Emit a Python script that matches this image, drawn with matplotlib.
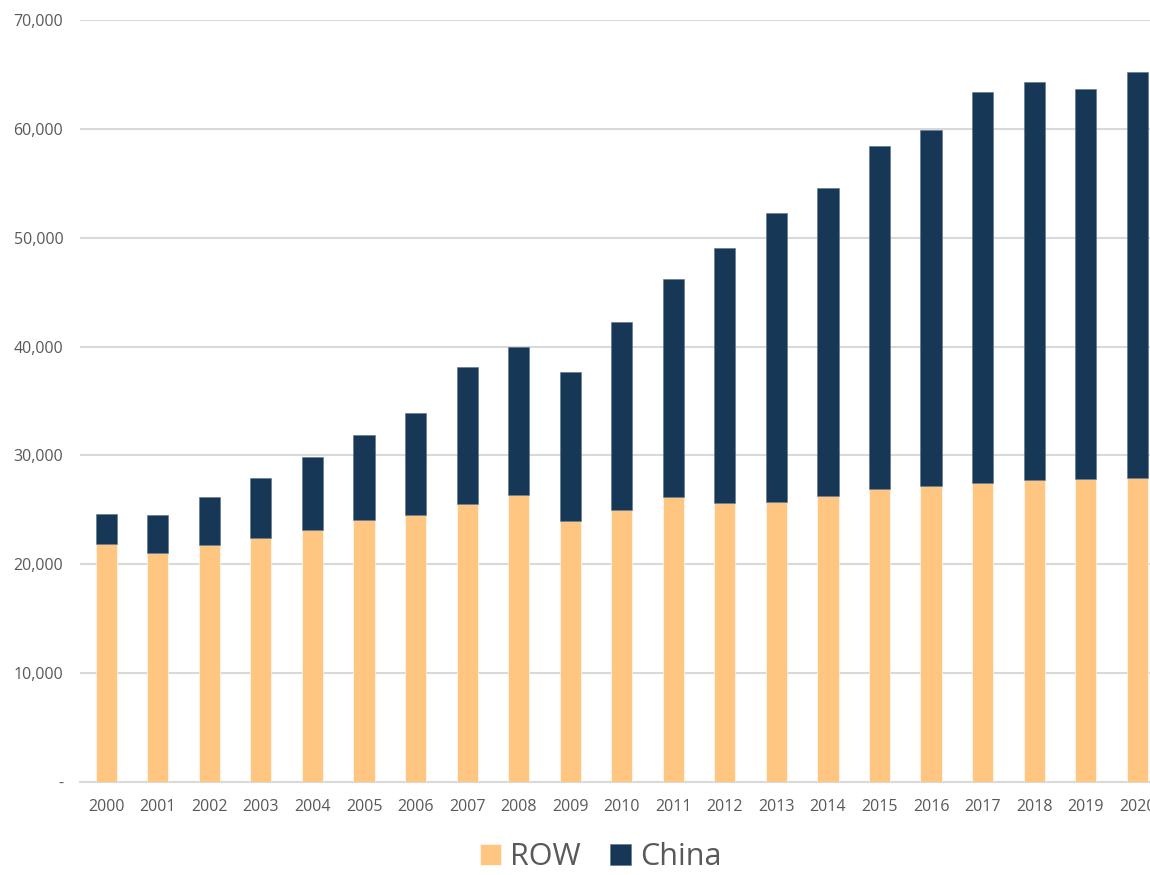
import numpy as np
import matplotlib
matplotlib.use('Agg')
import matplotlib.pyplot as plt
from matplotlib.ticker import FuncFormatter

plt.rcParams['font.family'] = ['Open Sans', 'DejaVu Sans']

# Dữ liệu
years = [str(y) for y in range(2000, 2021)]
row = [21870, 21070, 21800, 22390, 23150, 24100, 24560, 25500, 26390, 23980,
       24960, 26150, 25630, 25750, 26310, 26880, 27190, 27430, 27770, 27830, 27890]
total = [24620, 24500, 26150, 27950, 29850, 31840, 33880, 38140, 39940, 37650,
         42270, 46210, 49080, 52270, 54610, 58380, 59850, 63370, 64310, 63640, 65260]
china = [t - r for t, r in zip(total, row)]

c_row = '#FFC682'
c_china = '#163755'

fig = plt.figure(figsize=(11.5, 8.75), dpi=100)
ax = fig.add_axes([80 / 1150, 1 - 782 / 875, 1083 / 1150, (782 - 20) / 875])

x = np.arange(len(years))
ax.bar(x, row, width=0.41, color=c_row, edgecolor='white', linewidth=0.4, label='ROW', zorder=3)
ax.bar(x, china, bottom=row, width=0.41, color=c_china, edgecolor='#5d7389',
       linewidth=0.4, label='China', zorder=3)

ax.set_xlim(-0.51, 20.5)
ax.set_ylim(0, 70000)
ax.set_yticks(np.arange(0, 70001, 10000))
ax.yaxis.set_major_formatter(FuncFormatter(lambda v, p: '-' if v == 0 else f'{int(v):,}'))
ax.set_xticks(x)
ax.set_xticklabels(years)

ax.grid(axis='y', color='#d9d9d9', linewidth=1.5, zorder=0)
for s in ['top', 'right', 'left']:
    ax.spines[s].set_visible(False)
ax.spines['bottom'].set_color('#d9d9d9')
ax.spines['bottom'].set_linewidth(1.5)
ax.tick_params(axis='both', length=0, labelsize=11.5, labelcolor='#595959')
ax.tick_params(axis='y', pad=12)
ax.tick_params(axis='x', pad=12)

leg = fig.legend(loc='center', bbox_to_anchor=(601 / 1150, 1 - 857 / 875), ncol=2,
                 frameon=False, fontsize=22, handlelength=0.68, handleheight=0.68,
                 handletextpad=0.3, columnspacing=0.95, borderpad=0.2)
for t in leg.get_texts():
    t.set_color('#595959')

fig.savefig('out.png', dpi=100)
